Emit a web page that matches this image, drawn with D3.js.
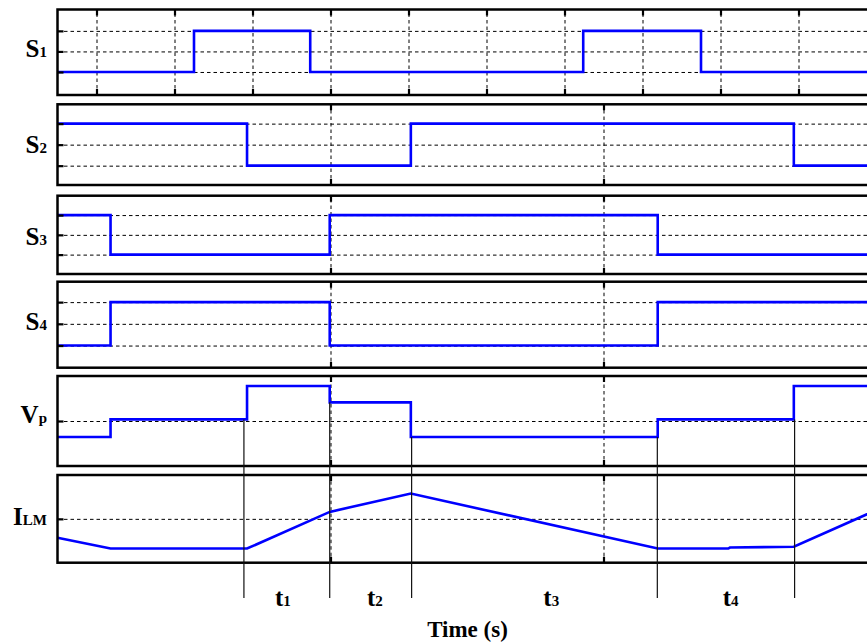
<!DOCTYPE html>
<html>
<head>
<meta charset="utf-8">
<script src="https://cdn.jsdelivr.net/npm/d3@7"></script>
<style>
body { margin: 0; background: #fff; }
text { font-family: "Liberation Serif", "Times New Roman", serif; font-weight: bold; fill: #000; }
</style>
</head>
<body>
<div id="main"></div>
<script>
// time in arbitrary units: one step of the top panel grid = 1
const T_START = 0.5, T_END = 11;
const topTicks = [1, 2, 3, 4, 5, 6, 7, 8, 9, 10];
const lowerTicks = [4, 7.5];

// gate signals: [time, level], level holds until next point
const s1 = [[0.5, 0], [2.25, 1], [3.74, 0], [7.24, 1], [8.75, 0], [11, 0]];
const s2 = [[0.5, 1], [2.93, 0], [5.03, 1], [9.94, 0], [11, 0]];
const s3 = [[0.5, 1], [1.18, 0], [3.99, 1], [8.195, 0], [11, 0]];
const s4 = [[0.5, 0], [1.18, 1], [3.99, 0], [8.195, 1], [11, 1]];
// primary voltage (steps) and magnetizing current (piecewise linear)
const vp = [[0.5, -0.5], [1.18, 0.05], [2.93, 1.09], [3.99, 0.58], [5.03, -0.5],
            [8.195, 0.05], [9.94, 1.09], [11, 1.09]];
const ilm = [[0.5, -0.95], [1.18, -1.49], [2.93, -1.49], [3.99, 0.35], [5.03, 1.27],
             [8.195, -1.49], [9.1, -1.49], [9.12, -1.44], [9.94, -1.40], [11, 0.44]];

const switchTicks = [0, 0.5, 1];
const analogTicks = [0];

const panelNames = [["S", "1"], ["S", "2"], ["S", "3"], ["S", "4"], ["V", "p"], ["I", "LM"]];
const markerTimes = [2.89, 3.99, 5.04, 8.19, 9.95];
const intervalNames = [["t", "1"], ["t", "2"], ["t", "3"], ["t", "4"]];
const intervalTimes = [3.39, 4.57, 6.83, 9.13];

const ctx = {
    w: 867,
    h: 644,
    left: 57.5,
    right: 876.5,
    markerBottom: 598,
    TICK: 6,
    DASH: "3.5,3",
    BLUE: "#0000ff",
    FONT_MAIN: 25,
    FONT_SUB: 15,
    // panel frames and value ranges
    panels: [
        {top: 9.5,   bottom: 95,    y: [-0.56, 1.52], labelDy: 5.3},
        {top: 104.3, bottom: 185,   y: [-0.46, 1.46], labelDy: 8.3},
        {top: 195.7, bottom: 274,   y: [-0.49, 1.49], labelDy: 10},
        {top: 281.7, bottom: 367.7, y: [-0.51, 1.47], labelDy: 5.7},
        {top: 376,   bottom: 466,   y: [-1.4, 1.4],   labelDy: 2.3},
        {top: 475,   bottom: 562.7, y: [-2.2, 2.2],   labelDy: 6.3},
    ],
};

const series = [s1, s2, s3, s4, vp, ilm];
const curves = [d3.curveStepAfter, d3.curveStepAfter, d3.curveStepAfter,
                d3.curveStepAfter, d3.curveStepAfter, d3.curveLinear];
const yTicks = [switchTicks, switchTicks, switchTicks, switchTicks, analogTicks, analogTicks];
const labelValue = [0.5, 0.5, 0.5, 0.5, 0, 0];

const x = d3.scaleLinear().domain([T_START, T_END]).range([ctx.left, ctx.right]);

function vpAt(t){
    let v = vp[0][1];
    vp.forEach(function(d){ if (d[0] <= t) v = d[1]; });
    return v;
}

function styleTicks(g, dashed){
    g.select(".domain").remove();
    g.selectAll(".tick line")
     .attr("stroke", "#000")
     .attr("stroke-width", dashed ? 1 : 2.2)
     .attr("stroke-dasharray", dashed ? ctx.DASH : null);
}

function createViz(){
    const svg = d3.select("#main").append("svg")
                  .attr("width", ctx.w)
                  .attr("height", ctx.h);

    const scales = [];

    ctx.panels.forEach(function(p, i){
        const y = d3.scaleLinear().domain(p.y).range([p.bottom, p.top]);
        scales.push(y);
        const xt = (i === 0) ? topTicks : lowerTicks;
        const g = svg.append("g").attr("class", "panel");
        const pw = ctx.right - ctx.left, ph = p.bottom - p.top;

        // dashed grid
        g.append("g")
         .attr("transform", `translate(${ctx.left},0)`)
         .call(d3.axisLeft(y).tickValues(yTicks[i]).tickSize(-pw).tickFormat(""))
         .call(styleTicks, true);
        g.append("g")
         .attr("transform", `translate(0,${p.bottom})`)
         .call(d3.axisBottom(x).tickValues(xt).tickSize(-ph).tickFormat(""))
         .call(styleTicks, true);

        // waveform
        const line = d3.line()
                       .x((d) => x(d[0]))
                       .y((d) => y(d[1]))
                       .curve(curves[i]);
        g.append("path")
         .datum(series[i])
         .attr("d", line)
         .attr("fill", "none")
         .attr("stroke", ctx.BLUE)
         .attr("stroke-width", 2.6);

        // frame
        g.append("rect")
         .attr("x", ctx.left).attr("y", p.top)
         .attr("width", pw).attr("height", ph)
         .attr("fill", "none")
         .attr("stroke", "#000")
         .attr("stroke-width", 2.5);

        // inner tick marks
        g.append("g")
         .attr("transform", `translate(${ctx.left},0)`)
         .call(d3.axisLeft(y).tickValues(yTicks[i]).tickSize(-ctx.TICK).tickFormat(""))
         .call(styleTicks, false);
        g.append("g")
         .attr("transform", `translate(0,${p.bottom})`)
         .call(d3.axisBottom(x).tickValues(xt).tickSize(-ctx.TICK).tickFormat(""))
         .call(styleTicks, false);
        g.append("g")
         .attr("transform", `translate(0,${p.top})`)
         .call(d3.axisTop(x).tickValues(xt).tickSize(-ctx.TICK).tickFormat(""))
         .call(styleTicks, false);

        // panel name
        const lab = g.append("text")
                     .attr("x", 47)
                     .attr("y", y(labelValue[i]) + p.labelDy)
                     .attr("text-anchor", "end");
        lab.append("tspan").attr("font-size", ctx.FONT_MAIN).text(panelNames[i][0]);
        lab.append("tspan").attr("font-size", ctx.FONT_SUB).text(panelNames[i][1]);
    });

    // interval markers from the Vp trace down below the current panel
    const yVp = scales[4];
    svg.append("g").attr("id", "markers")
       .selectAll("line")
       .data(markerTimes)
       .enter()
       .append("line")
       .attr("x1", (d) => x(d)).attr("x2", (d) => x(d))
       .attr("y1", (d) => yVp(Math.min(vpAt(d - 0.05), vpAt(d + 0.05))))
       .attr("y2", ctx.markerBottom)
       .attr("stroke", "#111")
       .attr("stroke-width", 1.2);

    const il = svg.append("g").attr("id", "intervals")
                  .selectAll("text")
                  .data(intervalNames)
                  .enter()
                  .append("text")
                  .attr("x", (d, i) => x(intervalTimes[i]))
                  .attr("y", 606)
                  .attr("text-anchor", "middle");
    il.append("tspan").attr("font-size", ctx.FONT_MAIN).text((d) => d[0]);
    il.append("tspan").attr("font-size", ctx.FONT_SUB).text((d) => d[1]);

    svg.append("text")
       .attr("x", 467.5)
       .attr("y", 636.5)
       .attr("text-anchor", "middle")
       .attr("font-size", 23)
       .text("Time (s)");
}

createViz();
</script>
</body>
</html>
